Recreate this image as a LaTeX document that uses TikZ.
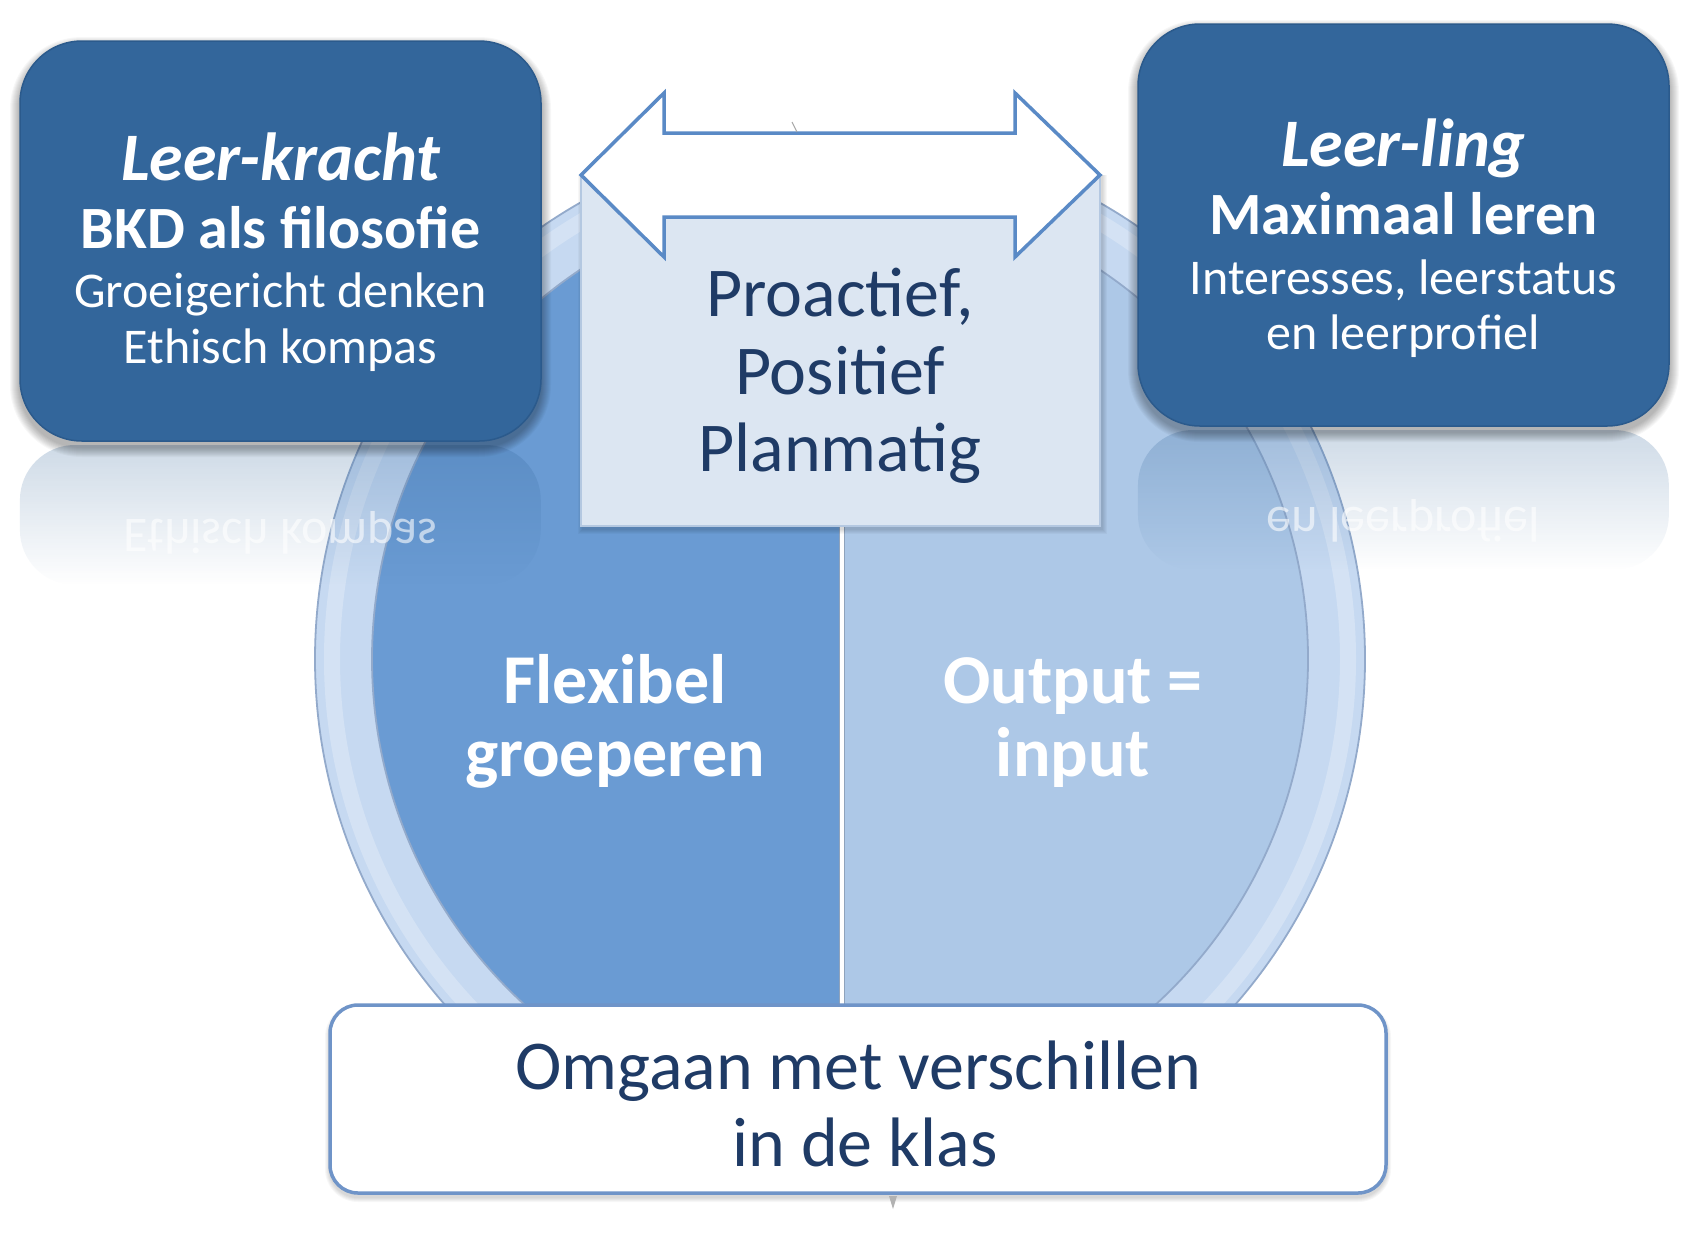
\documentclass[tikz,border=0pt]{standalone}
\usepackage{fontspec}
\setmainfont{Carlito}
\usepackage{graphicx}
\usetikzlibrary{fadings}
\definecolor{boxblue}{HTML}{33669B}
\definecolor{boxedge}{HTML}{2B5A8C}
\definecolor{ringc}{HTML}{C6D9F1}
\definecolor{ringedge}{HTML}{93AACB}
\definecolor{halfl}{HTML}{6A9BD3}
\definecolor{halfr}{HTML}{ADC8E7}
\definecolor{cbox}{HTML}{DCE6F2}
\definecolor{cboxedge}{HTML}{B4C8E1}
\definecolor{arrowc}{HTML}{5A8AC6}
\definecolor{txtdark}{HTML}{1F3B66}
\definecolor{bboxedge}{HTML}{6F94C8}
\definecolor{divgrey}{HTML}{8FA3BC}
\tikzfading[name=reflfade, top color=transparent!0, bottom color=transparent!100]
\begin{document}
\begin{tikzpicture}[x=1pt,y=-1pt,
  ttl/.style={anchor=base, text=white, font=\fontsize{68}{80}\selectfont\bfseries\itshape},
  sub/.style={anchor=base, text=white, font=\fontsize{60}{72}\selectfont\bfseries},
  body/.style={anchor=base, text=white, font=\fontsize{50}{60}\selectfont},
  mirr/.style={anchor=base, text=white, opacity=0.6, font=\fontsize{50}{60}\selectfont},
  ctxt/.style={anchor=base, text=txtdark, font=\fontsize{70}{84}\selectfont},
  htxt/.style={anchor=base, text=white, font=\fontsize{70}{84}\selectfont\bfseries},
  refl/.style={fill=boxblue, fill opacity=0.24, path fading=reflfade},
  shadowstep/.style={fill=black, opacity=0.03}
]
% canvas
\fill[white] (0,0) rectangle (1708,1256);
\useasboundingbox (0,0) rectangle (1708,1256);

% ring and disc
\fill[ringc] (840,659) circle[radius=525];
\draw[white, opacity=0.25, line width=16] (840,659) circle[radius=508];
\draw[ringedge, line width=1.8] (840,659) circle[radius=525];
\begin{scope}
  \clip (840,659) circle[radius=468];
  \fill[halfl] (300,100) rectangle (842,1200);
  \fill[halfr] (842,100) rectangle (1400,1200);
\end{scope}
\draw[ringedge, line width=1.8] (840,659) circle[radius=468];
\draw[divgrey, line width=6] (842,191) -- (842,1127);
\draw[white, line width=3.5] (842,191) -- (842,1127);

% reflections
\fill[refl, rounded corners=55] (20,445) rectangle (541,585);
\node[mirr] (lmirror) at (280.5,519) {\scalebox{1}[-1]{Ethisch kompas}};
\fill[refl, rounded corners=55] (1138,430) rectangle (1669,570);
\node[mirr] (rmirror) at (1403.5,507) {\scalebox{1}[-1]{en leerprofiel}};

% top box shadows
\foreach \i in {1,...,10} {
  \pgfmathsetmacro\rr{62+\i}
  \fill[shadowstep, rounded corners=\rr pt] ({20-\i},{41-\i+6}) rectangle ({541+\i},{441+\i+6});
  \fill[shadowstep, rounded corners=\rr pt] ({1138-\i},{24-\i+6}) rectangle ({1669+\i},{426+\i+6});
}
% top boxes
\filldraw[fill=boxblue, draw=boxedge, line width=1.5, rounded corners=62] (20,41) rectangle (541,441);
\filldraw[fill=boxblue, draw=boxedge, line width=1.5, rounded corners=62] (1138,24) rectangle (1669,426);

\node[ttl] (l1) at (280.5,180) {Leer-kracht};
\node[sub] (l2) at (280.5,248) {BKD als filosofie};
\node[body] (l3) at (280.5,307) {Groeigericht denken};
\node[body] (l4) at (280.5,363) {Ethisch kompas};

\node[ttl] (r1) at (1403.5,166) {Leer-ling};
\node[sub] (r2) at (1403.5,234) {Maximaal leren};
\node[body] (r3) at (1403.5,294) {Interesses, leerstatus};
\node[body] (r4) at (1403.5,349) {en leerprofiel};

% centre box
\foreach \i in {1,...,5} {
  \fill[shadowstep] ({581-\i+2},{175}) rectangle ({1100+\i+2},{526+\i+3});
}
\filldraw[fill=cbox, draw=cboxedge, line width=1.5] (581,175) rectangle (1100,526);

% double arrow
\draw[arrowc, fill=white, line width=3.5, line join=miter]
  (581,175) -- (664,93) -- (664,133) -- (1015,133) -- (1015,93) -- (1100,175)
  -- (1015,257) -- (1015,217) -- (664,217) -- (664,257) -- cycle;
\draw[gray!70, line width=1] (792,122) -- (797,132);

\node[ctxt] (c1) at (840,316) {Proactief,};
\node[ctxt] (c2) at (840,394) {Positief};
\node[ctxt] (c3) at (840,471) {Planmatig};

% half texts
\node[htxt] (h1) at (615,703) {Flexibel};
\node[htxt] (h2) at (615,776) {groeperen};
\node[htxt] (h3) at (1073,703) {Output =};
\node[htxt] (h4) at (1073,776) {input};

% bottom box
\foreach \i in {1,...,5} {
  \pgfmathsetmacro\rr{28+\i}
  \fill[shadowstep, rounded corners=\rr pt] ({330-\i},{1005-\i+4}) rectangle ({1386+\i},{1193+\i+4});
}
\filldraw[fill=white, draw=bboxedge, line width=3.5, rounded corners=28] (330,1005) rectangle (1386,1193);
\fill[gray!60] (889,1196) -- (897,1196) -- (893,1209) -- cycle;

\node[ctxt] (b1) at (858,1089) {Omgaan met verschillen};
\node[ctxt] (b2) at (865,1166) {in de klas};
\end{tikzpicture}
\end{document}
